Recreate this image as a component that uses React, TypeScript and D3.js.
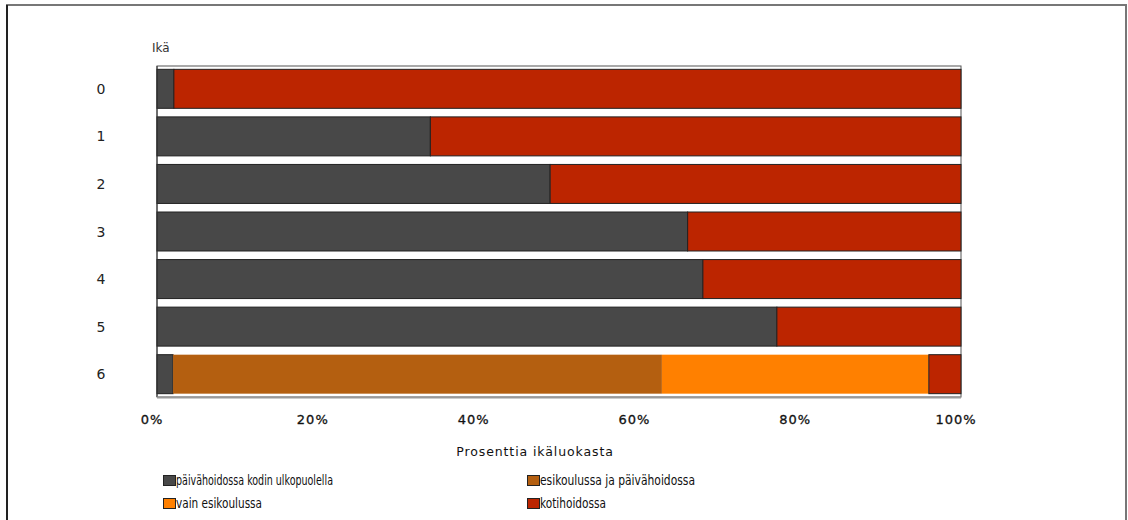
import React from 'react'
import * as d3 from 'd3'

// Hoitomuoto ikäryhmittäin (% ikäluokasta)
const ages = ['0', '1', '2', '3', '4', '5', '6']
const seriesNames = [
  'päivähoidossa kodin ulkopuolella',
  'esikoulussa ja päivähoidossa',
  'vain esikoulussa',
  'kotihoidossa',
]
const paivahoito = [2.1, 34.0, 48.9, 66.0, 67.9, 77.1, 2.0]
const esikouluJaPaivahoito = [0, 0, 0, 0, 0, 0, 60.8]
const vainEsikoulu = [0, 0, 0, 0, 0, 0, 33.2]
const kotihoito = [97.9, 66.0, 51.1, 34.0, 32.1, 22.9, 4.0]
const xTicks = [0, 20, 40, 60, 80, 100]
const colors = ['#484848', '#b45f10', '#ff8000', '#bc2500']

const W = 1128
const H = 520
const margin = { left: 157, right: 167, top: 66, bottom: 123 }

export default function App() {
  const x = d3.scaleLinear().domain([0, 100]).range([margin.left, W - margin.right])
  const y = d3
    .scaleBand<string>()
    .domain(ages)
    .range([margin.top, H - margin.bottom])
    .paddingInner(0.18)
    .paddingOuter(0.07)

  const rows = ages.map((age, i) => ({
    age,
    values: [paivahoito[i], esikouluJaPaivahoito[i], vainEsikoulu[i], kotihoito[i]],
  }))

  const stack = d3
    .stack<{ age: string; values: number[] }, number>()
    .keys([0, 1, 2, 3])
    .value((d, k) => d.values[k])
  const layers = stack(rows)

  // legend positions and text widths as in the original layout
  const legendItems = [
    { name: seriesNames[0], color: colors[0], x: 163, y: 475, len: 157 },
    { name: seriesNames[1], color: colors[1], x: 527, y: 475, len: 155 },
    { name: seriesNames[2], color: colors[2], x: 163, y: 498, len: 86 },
    { name: seriesNames[3], color: colors[3], x: 527, y: 498, len: 66 },
  ]

  const axisFont = 'DejaVu Sans, Verdana, sans-serif'
  const legendFont = '"DejaVu Sans Condensed", "DejaVu Sans", sans-serif'

  return (
    <svg
      width={W}
      height={H}
      style={{ position: 'absolute', left: 0, top: 0, background: '#fff' }}
    >
      {/* outer frame */}
      <rect x={7} y={5} width={1119} height={540} fill="none" stroke="#777" strokeWidth={2} />
      <line x1={7} y1={5} x2={7} y2={H} stroke="#222" strokeWidth={2} />

      {/* plot frame */}
      <rect
        x={x(0)}
        y={margin.top}
        width={x(100) - x(0)}
        height={H - margin.bottom - margin.top}
        fill="#fff"
        stroke="#555"
        strokeWidth={1}
      />

      {layers.map((layer, k) => (
        <g key={k} fill={colors[k]}>
          {layer.map((d, i) =>
            d[1] - d[0] > 0 ? (
              <rect
                key={i}
                x={x(d[0])}
                y={y(ages[i])!}
                width={x(d[1]) - x(d[0])}
                height={y.bandwidth()}
                stroke={k === 0 || k === 3 ? '#222' : 'none'}
                strokeWidth={1}
              />
            ) : null
          )}
        </g>
      ))}

      {/* axis lines */}
      <line x1={x(0)} y1={margin.top} x2={x(0)} y2={H - margin.bottom} stroke="#333" />
      <line
        x1={x(0)}
        y1={H - margin.bottom + 0.5}
        x2={x(100)}
        y2={H - margin.bottom + 0.5}
        stroke="#999"
        strokeWidth={2}
      />

      {/* y labels */}
      <text x={152} y={52} fontFamily={axisFont} fontSize={12} fill="#333">
        Ikä
      </text>
      {ages.map((a) => (
        <text
          key={a}
          x={101}
          y={y(a)! + y.bandwidth() / 2 + 5}
          textAnchor="middle"
          fontFamily={axisFont}
          fontSize={14}
          fill="#222"
        >
          {a}
        </text>
      ))}

      {/* x ticks */}
      {xTicks.map((t) => (
        <text
          key={t}
          x={x(t) - 5}
          y={424}
          textAnchor="middle"
          fontFamily={axisFont}
          fontSize={13}
          fill="#111"
          stroke="#111"
          strokeWidth={0.3}
          letterSpacing={1}
        >
          {t}%
        </text>
      ))}
      <text
        x={(x(0) + x(100)) / 2 - 24}
        y={456}
        textAnchor="middle"
        fontFamily={axisFont}
        fontSize={12.5}
        fill="#111"
        letterSpacing={0.9}
      >
        Prosenttia ikäluokasta
      </text>

      {/* legend */}
      {legendItems.map((it) => (
        <g key={it.name}>
          <rect x={it.x + 0.5} y={it.y + 0.5} width={12} height={10} fill={it.color} stroke="#222" />
          <text
            x={it.x + 13}
            y={it.y + 10}
            fontFamily={legendFont}
            fontSize={14}
            fill="#111"
            textLength={it.len}
            lengthAdjust="spacingAndGlyphs"
          >
            {it.name}
          </text>
        </g>
      ))}
    </svg>
  )
}
